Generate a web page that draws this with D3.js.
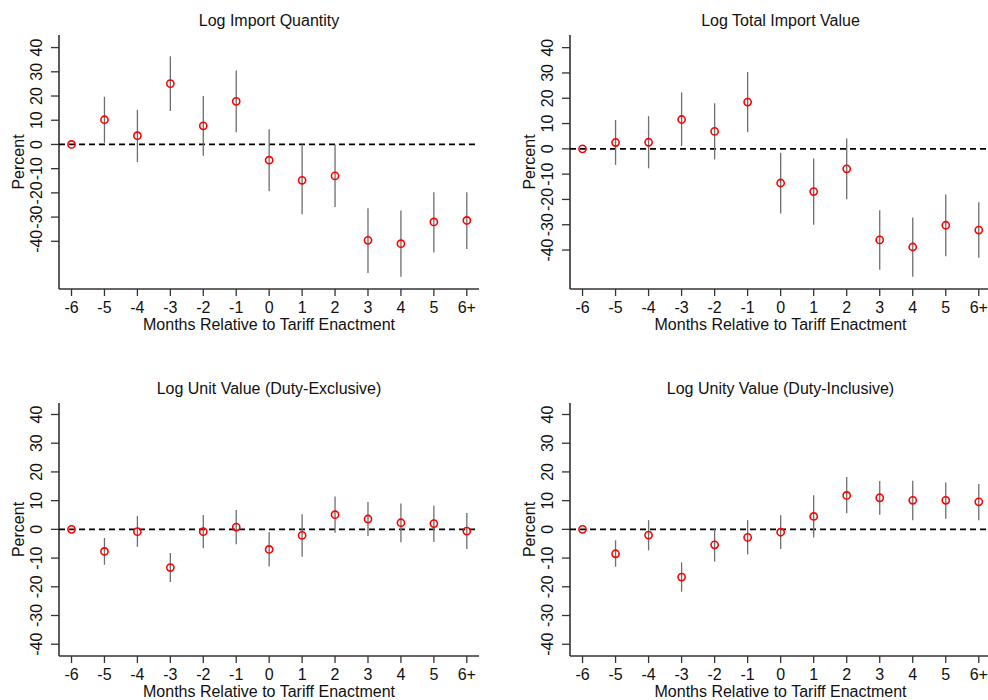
<!DOCTYPE html>
<meta charset="utf-8">
<html>
<head><title>Event study panels</title></head>
<style>
body { margin: 0; background: #fff; }
text { font-family: "Liberation Sans", Arial, sans-serif; fill: #111; font-size: 16px; }
</style>
<body>
<script src="https://d3js.org/d3.v7.min.js"></script>
<svg id="chart" width="988" height="700"></svg>
<script>

// months relative to enactment (x categories)
var months = ["-6", "-5", "-4", "-3", "-2", "-1", "0", "1", "2", "3", "4", "5", "6+"];
var yTicks = [-40, -30, -20, -10, 0, 10, 20, 30, 40];

// Log import quantity
var qtyEst = [0, 10.2, 3.6, 25.1, 7.7, 17.8, -6.5, -14.8, -13.0, -39.6, -41.0, -32.0, -31.4];
var qtyLo  = [0, 0.7, -7.3, 13.8, -4.7, 5.0, -19.3, -28.8, -25.8, -53.1, -54.6, -44.6, -43.2];
var qtyHi  = [0, 19.7, 14.3, 36.4, 20.0, 30.5, 6.3, 0.0, 0.0, -26.3, -27.3, -19.7, -19.7];

// Log total import value
var valEst = [0, 2.5, 2.6, 11.6, 6.9, 18.5, -13.5, -16.9, -7.9, -36.0, -38.8, -30.2, -32.1];
var valLo  = [0, -6.3, -7.7, 1.1, -4.2, 6.6, -25.6, -30.0, -19.9, -47.8, -50.6, -42.5, -43.0];
var valHi  = [0, 11.4, 12.9, 22.3, 18.0, 30.4, -1.5, -3.8, 4.1, -24.3, -27.1, -18.0, -21.1];

// Log unit value, duty-exclusive
var uvxEst = [0, -7.7, -0.8, -13.3, -0.8, 0.8, -7.0, -2.1, 5.1, 3.6, 2.3, 2.0, -0.6];
var uvxLo  = [0, -12.3, -6.1, -18.3, -6.6, -5.2, -12.9, -9.5, -1.2, -2.3, -4.5, -4.4, -6.8];
var uvxHi  = [0, -3.0, 4.6, -8.2, 5.0, 6.7, -0.9, 5.3, 11.4, 9.5, 9.0, 8.2, 5.7];

// Log unit value, duty-inclusive
var uviEst = [0, -8.5, -2.0, -16.6, -5.4, -2.8, -1.0, 4.5, 11.8, 11.0, 10.1, 10.1, 9.6];
var uviLo  = [0, -13.0, -7.3, -21.7, -11.2, -8.7, -6.8, -2.8, 5.6, 5.1, 3.2, 3.7, 3.2];
var uviHi  = [0, -3.8, 3.2, -11.5, 0.1, 3.2, 4.9, 11.9, 18.2, 16.8, 16.9, 16.3, 15.8];

var panels = [
  { title: "Log Import Quantity", est: qtyEst, lo: qtyLo, hi: qtyHi,
    left: 59, right: 479, top: 35, bottom: 289, domain: [-59.7, 45.2] },
  { title: "Log Total Import Value", est: valEst, lo: valLo, hi: valHi,
    left: 570, right: 991, top: 35, bottom: 289, domain: [-55.4, 45.0] },
  { title: "Log Unit Value (Duty-Exclusive)", est: uvxEst, lo: uvxLo, hi: uvxHi,
    left: 59, right: 479, top: 403, bottom: 656, domain: [-44.1, 44.0] },
  { title: "Log Unity Value (Duty-Inclusive)", est: uviEst, lo: uviLo, hi: uviHi,
    left: 570, right: 991, top: 403, bottom: 656, domain: [-44.1, 44.0] }
];

var svg = d3.select("#chart");
var axisColor = "#333";

panels.forEach(function(p) {
  var g = svg.append("g");

  var x = d3.scaleLinear()
    .domain([-0.38, months.length - 1 + 0.37])
    .range([p.left, p.right]);
  var y = d3.scaleLinear()
    .domain(p.domain)
    .range([p.bottom, p.top]);

  // title
  g.append("text")
    .attr("x", (p.left + p.right) / 2)
    .attr("y", p.top - 9)
    .attr("text-anchor", "middle")
    .text(p.title);

  // axes lines
  g.append("line")
    .attr("x1", p.left).attr("x2", p.left)
    .attr("y1", p.top).attr("y2", p.bottom)
    .attr("stroke", axisColor).attr("stroke-width", 1.6);
  g.append("line")
    .attr("x1", p.left).attr("x2", p.right)
    .attr("y1", p.bottom).attr("y2", p.bottom)
    .attr("stroke", axisColor).attr("stroke-width", 1.6);

  // y ticks + rotated labels
  g.selectAll("line.yt").data(yTicks).enter().append("line")
    .attr("class", "yt")
    .attr("x1", p.left - 8).attr("x2", p.left)
    .attr("y1", function(d) { return y(d); })
    .attr("y2", function(d) { return y(d); })
    .attr("stroke", axisColor).attr("stroke-width", 1.3);
  g.selectAll("text.yl").data(yTicks).enter().append("text")
    .attr("class", "yl")
    .attr("text-anchor", "middle")
    .attr("transform", function(d) {
      return "translate(" + (p.left - 17) + "," + y(d) + ") rotate(-90)";
    })
    .text(function(d) { return d; });

  g.append("text")
    .attr("text-anchor", "middle")
    .attr("transform", "translate(" + (p.left - 35) + "," + ((p.top + p.bottom) / 2) + ") rotate(-90)")
    .text("Percent");

  // x ticks + labels
  g.selectAll("line.xt").data(months).enter().append("line")
    .attr("class", "xt")
    .attr("x1", function(d, i) { return x(i); })
    .attr("x2", function(d, i) { return x(i); })
    .attr("y1", p.bottom).attr("y2", p.bottom + 7)
    .attr("stroke", axisColor).attr("stroke-width", 1.3);
  g.selectAll("text.xl").data(months).enter().append("text")
    .attr("class", "xl")
    .attr("x", function(d, i) { return x(i); })
    .attr("y", p.bottom + 24)
    .attr("text-anchor", "middle")
    .text(function(d) { return d; });

  g.append("text")
    .attr("x", (p.left + p.right) / 2)
    .attr("y", p.bottom + 41)
    .attr("text-anchor", "middle")
    .text("Months Relative to Tariff Enactment");

  // zero reference line
  g.append("line")
    .attr("x1", p.left).attr("x2", p.right)
    .attr("y1", y(0)).attr("y2", y(0))
    .attr("stroke", "#000").attr("stroke-width", 1.8)
    .attr("stroke-dasharray", "6,4");

  // confidence intervals
  g.selectAll("line.ci").data(months).enter().append("line")
    .attr("class", "ci")
    .attr("x1", function(d, i) { return x(i); })
    .attr("x2", function(d, i) { return x(i); })
    .attr("y1", function(d, i) { return y(p.lo[i]); })
    .attr("y2", function(d, i) { return y(p.hi[i]); })
    .attr("stroke", "#6e6e6e").attr("stroke-width", 1.3);

  // point estimates
  g.selectAll("circle.pt").data(months).enter().append("circle")
    .attr("class", "pt")
    .attr("cx", function(d, i) { return x(i); })
    .attr("cy", function(d, i) { return y(p.est[i]); })
    .attr("r", 3.6)
    .attr("fill", "none")
    .attr("stroke", "#ff0000")
    .attr("stroke-width", 1.6);
});

</script>
</body>
</html>
